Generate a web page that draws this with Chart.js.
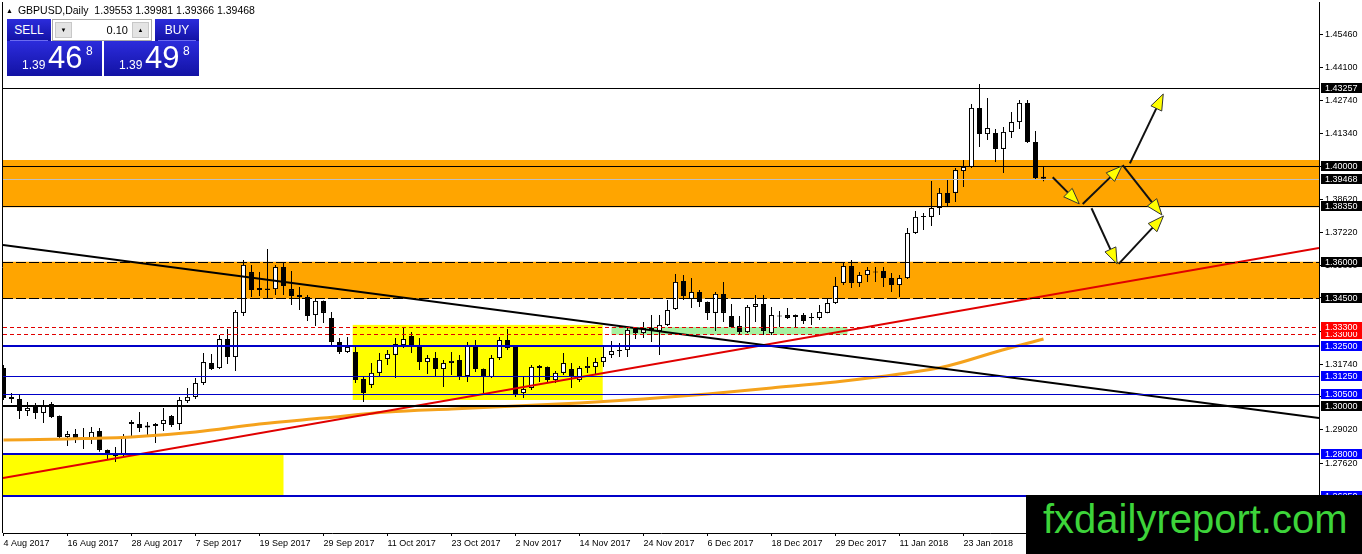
<!DOCTYPE html>
<html>
<head>
<meta charset="utf-8">
<title>GBPUSD Daily</title>
<script src="https://cdn.jsdelivr.net/npm/chart.js@4.4.1/dist/chart.umd.min.js"></script>
<style>
body { margin: 0; background: #fff; }
#wrap { position: relative; width: 1362px; height: 554px; overflow: hidden; font-family: 'Liberation Sans', Arial, sans-serif; }
#chart { position: absolute; left: 0; top: 0; }
.abs { position: absolute; white-space: nowrap; }
#hdr { left: 6px; top: 5px; font-size: 10.5px; line-height: 11px; color: #000; }
#hdr span { font-size: 7px; margin-right: 5px; vertical-align: 1px; }
.blue { background: linear-gradient(#2c2cdc, #1212a4); color: #fff; }
.btn { top: 19px; width: 44px; height: 22px; font-size: 12px; line-height: 22px; text-align: center; }
.sep { position: absolute; left: 3px; right: 3px; bottom: 0; height: 1px; background: #6b6bf0; }
.px { top: 41px; width: 95px; height: 35px; }
.px div { position: absolute; white-space: nowrap; }
.small { left: 15px; top: 18px; font-size: 12px; line-height: 12px; }
.big { left: 41px; top: 2px; font-size: 31px; line-height: 30px; }
.sup { left: 79px; top: 4px; font-size: 12px; line-height: 12px; }
#lot { left: 52px; top: 19px; width: 100px; height: 22px; background: #fff; box-sizing: border-box; border: 1px solid #a8a8a8; }
#lot .arr { position: absolute; top: 2px; width: 17px; height: 16px; background: #e4e4e4; border: 1px solid #c8c8c8; box-sizing: border-box; font-size: 6px; line-height: 14px; text-align: center; color: #000; }
#lot .val { position: absolute; right: 23px; top: 5px; font-size: 11px; line-height: 11px; }
#mark { left: 1026px; top: 495px; width: 336px; height: 59px; background: #000; }
#mark div { position: absolute; left: 17px; top: 4px; font-size: 40px; line-height: 40px; color: #3dd43a; }
</style>
</head>
<body>
<div id="wrap">
<canvas id="chart" width="1362" height="554"></canvas>
<div id="hdr" class="abs"><span>&#9650;</span>GBPUSD,Daily&nbsp; 1.39553 1.39981 1.39366 1.39468</div>
<div class="abs blue btn" style="left:7px">SELL<div class="sep"></div></div>
<div id="lot" class="abs"><div class="arr" style="left:2px">&#9660;</div><div class="val">0.10</div><div class="arr" style="right:2px">&#9650;</div></div>
<div class="abs blue btn" style="left:155px">BUY<div class="sep"></div></div>
<div class="abs blue px" style="left:7px"><div class="small">1.39</div><div class="big">46</div><div class="sup">8</div></div>
<div class="abs blue px" style="left:104px"><div class="small">1.39</div><div class="big">49</div><div class="sup">8</div></div>
<div id="mark" class="abs"><div>fxdailyreport.com</div></div>
</div>
<script>
'use strict'

let tickDates = ['4 Aug 2017', '16 Aug 2017', '28 Aug 2017', '7 Sep 2017', '19 Sep 2017', '29 Sep 2017', '11 Oct 2017', '23 Oct 2017', '2 Nov 2017', '14 Nov 2017', '24 Nov 2017', '6 Dec 2017', '18 Dec 2017', '29 Dec 2017', '11 Jan 2018', '23 Jan 2018'];
let priceTicks = [1.4546, 1.4410, 1.4274, 1.4134, 1.3998, 1.3862, 1.3722, 1.3586, 1.3450, 1.3312, 1.3174, 1.3038, 1.2902, 1.2762, 1.2626];

let opens = [1.3158, 1.3038, 1.3029, 1.2979, 1.2996, 1.2971, 1.3008, 1.2958, 1.2871, 1.2883,
  1.2869, 1.2867, 1.2896, 1.2817, 1.2796, 1.2796, 1.2925, 1.2925, 1.2919, 1.2917,
  1.2925, 1.2958, 1.2925, 1.3021, 1.3038, 1.3096, 1.3179, 1.3158, 1.3279, 1.3204,
  1.3388, 1.3558, 1.3492, 1.3483, 1.3487, 1.3579, 1.3487, 1.3463, 1.3454, 1.3379,
  1.3438, 1.3367, 1.3267, 1.3225, 1.3225, 1.3113, 1.3088, 1.3138, 1.3196, 1.3213,
  1.3254, 1.3292, 1.3246, 1.3183, 1.3200, 1.3154, 1.3179, 1.3192, 1.3125, 1.3250,
  1.3154, 1.3121, 1.3200, 1.3275, 1.3246, 1.3054, 1.3075, 1.3167, 1.3163, 1.3108,
  1.3138, 1.3154, 1.3108, 1.3158, 1.3163, 1.3183, 1.3213, 1.3229, 1.3233, 1.3321,
  1.3304, 1.3317, 1.3313, 1.3338, 1.3404, 1.3521, 1.3446, 1.3475, 1.3433, 1.3388,
  1.3467, 1.3375, 1.3333, 1.3308, 1.3413, 1.3425, 1.3304, 1.3377, 1.3379, 1.3371,
  1.3379, 1.3367, 1.3367, 1.3388, 1.3429, 1.3513, 1.3583, 1.3513, 1.3546, 1.3556,
  1.3563, 1.3533, 1.3504, 1.3533, 1.3721, 1.3788, 1.3788, 1.3825, 1.3888, 1.3888,
  1.3979, 1.3996, 1.4242, 1.4133, 1.4138, 1.4071, 1.4142, 1.4183, 1.4263, 1.4100,
  1.39553];
let highs = [1.3171, 1.3054, 1.3050, 1.3017, 1.3013, 1.3025, 1.3017, 1.2960, 1.2896, 1.2904,
  1.2908, 1.2912, 1.2908, 1.2819, 1.2829, 1.2883, 1.2942, 1.2975, 1.2933, 1.2929,
  1.2992, 1.2963, 1.3038, 1.3075, 1.3117, 1.3221, 1.3217, 1.3296, 1.3321, 1.3400,
  1.3608, 1.3588, 1.3558, 1.3654, 1.3588, 1.3596, 1.3563, 1.3496, 1.3463, 1.3450,
  1.3440, 1.3392, 1.3283, 1.3288, 1.3246, 1.3121, 1.3179, 1.3221, 1.3233, 1.3283,
  1.3329, 1.3308, 1.3283, 1.3213, 1.3225, 1.3192, 1.3225, 1.3213, 1.3267, 1.3275,
  1.3156, 1.3213, 1.3288, 1.3321, 1.3248, 1.3125, 1.3171, 1.3171, 1.3165, 1.3146,
  1.3221, 1.3179, 1.3167, 1.3204, 1.3200, 1.3254, 1.3271, 1.3263, 1.3325, 1.3329,
  1.3350, 1.3379, 1.3379, 1.3442, 1.3550, 1.3546, 1.3533, 1.3483, 1.3435, 1.3475,
  1.3517, 1.3425, 1.3375, 1.3421, 1.3463, 1.3463, 1.3413, 1.3396, 1.3408, 1.3381,
  1.3388, 1.3388, 1.3421, 1.3450, 1.3538, 1.3596, 1.3608, 1.3558, 1.3579, 1.3579,
  1.3579, 1.3554, 1.3546, 1.3742, 1.3813, 1.3804, 1.3938, 1.3908, 1.3942, 1.3992,
  1.4025, 1.4258, 1.4342, 1.4283, 1.4154, 1.4163, 1.4225, 1.4275, 1.4275, 1.4146,
  1.39981];
let lows = [1.3025, 1.3013, 1.2946, 1.2958, 1.2946, 1.2929, 1.2950, 1.2858, 1.2833, 1.2846,
  1.2821, 1.2842, 1.2809, 1.2775, 1.2767, 1.2788, 1.2871, 1.2892, 1.2871, 1.2846,
  1.2896, 1.2912, 1.2900, 1.3013, 1.3029, 1.3088, 1.3150, 1.3154, 1.3175, 1.3146,
  1.3375, 1.3454, 1.3458, 1.3446, 1.3463, 1.3463, 1.3421, 1.3400, 1.3354, 1.3333,
  1.3346, 1.3246, 1.3217, 1.3221, 1.3096, 1.3017, 1.3075, 1.3121, 1.3171, 1.3117,
  1.3242, 1.3221, 1.3150, 1.3133, 1.3125, 1.3079, 1.3129, 1.3108, 1.3100, 1.3142,
  1.3054, 1.3117, 1.3192, 1.3233, 1.3038, 1.3033, 1.3067, 1.3100, 1.3100, 1.3096,
  1.3129, 1.3075, 1.3100, 1.3138, 1.3129, 1.3163, 1.3200, 1.3204, 1.3204, 1.3279,
  1.3283, 1.3267, 1.3213, 1.3333, 1.3400, 1.3442, 1.3408, 1.3413, 1.3358, 1.3313,
  1.3350, 1.3325, 1.3296, 1.3304, 1.3350, 1.3296, 1.3296, 1.3329, 1.3363, 1.3329,
  1.3342, 1.3338, 1.3358, 1.3386, 1.3425, 1.3504, 1.3492, 1.3496, 1.3517, 1.3517,
  1.3496, 1.3475, 1.3454, 1.3529, 1.3717, 1.3733, 1.3750, 1.3796, 1.3833, 1.3850,
  1.3913, 1.3992, 1.4079, 1.4108, 1.4017, 1.3971, 1.4117, 1.4154, 1.4096, 1.3946,
  1.39366];
let closes = [1.3033, 1.3029, 1.2979, 1.2992, 1.2971, 1.3004, 1.2954, 1.2871, 1.2883, 1.2867,
  1.2867, 1.2892, 1.2817, 1.2796, 1.2792, 1.2871, 1.2933, 1.2908, 1.2910, 1.2925,
  1.2942, 1.2921, 1.3025, 1.3038, 1.3096, 1.3183, 1.3154, 1.3279, 1.3204, 1.3392,
  1.3588, 1.3483, 1.3483, 1.3490, 1.3579, 1.3500, 1.3458, 1.3454, 1.3375, 1.3438,
  1.3388, 1.3267, 1.3225, 1.3246, 1.3108, 1.3054, 1.3138, 1.3192, 1.3217, 1.3258,
  1.3279, 1.3246, 1.3183, 1.3200, 1.3154, 1.3179, 1.3188, 1.3125, 1.3250, 1.3154,
  1.3121, 1.3200, 1.3275, 1.3242, 1.3046, 1.3071, 1.3163, 1.3158, 1.3108, 1.3138,
  1.3179, 1.3121, 1.3158, 1.3167, 1.3183, 1.3204, 1.3229, 1.3233, 1.3317, 1.3304,
  1.3325, 1.3325, 1.3338, 1.3400, 1.3517, 1.3458, 1.3475, 1.3433, 1.3388, 1.3467,
  1.3388, 1.3329, 1.3308, 1.3413, 1.3425, 1.3313, 1.3379, 1.3373, 1.3367, 1.3379,
  1.3354, 1.3371, 1.3392, 1.3429, 1.3500, 1.3583, 1.3513, 1.3546, 1.3567, 1.3560,
  1.3533, 1.3504, 1.3533, 1.3721, 1.3788, 1.3792, 1.3825, 1.3888, 1.3846, 1.3983,
  1.3996, 1.4242, 1.4133, 1.4158, 1.4071, 1.4142, 1.4183, 1.4263, 1.4100, 1.3950,
  1.39468];

let maIdx = [0, 8, 16, 24, 32, 40, 48, 56, 64, 72, 80, 88, 96, 104, 112, 118, 124, 130];
let maVals = [1.2858, 1.2863, 1.2871, 1.2892, 1.2925, 1.2950, 1.2975, 1.2988, 1.3000, 1.3013, 1.3029, 1.3050, 1.3075, 1.3100, 1.3133, 1.3167, 1.3225, 1.3279];

let downTrend = [[-0.0625, 1.3671], [164.4375, 1.2950]];
let upTrend = [[-0.0625, 1.2700], [164.4375, 1.3658]];

let zones = [[1.4025, 1.3828], [1.3601, 1.3447]];
let yellowBoxes = [[43.65, 74.9, 1.3338, 1.3025], [-0.0625, 35.0, 1.2797, 1.2626]];
let greenBox = [76.0, 105.5, 1.3329, 1.3297];

let levelPrices = [1.43257, 1.40000, 1.39468, 1.38350, 1.36000, 1.34500, 1.33000, 1.33300, 1.32500, 1.31250, 1.30500, 1.30000, 1.28000, 1.26250];
let levelStyles = [
  ['#000', 1, []], ['#000', 1, []], ['#c0c0c0', 1, []], ['#000', 1, []],
  ['#000', 1, [10, 3]], ['#000', 1, [10, 3]], ['#e00000', 1, [4, 3]], ['#e00000', 1, [4, 3]],
  ['#0000c8', 2, []], ['#0000c8', 1, []], ['#0000c8', 1, []], ['#000', 2, []],
  ['#0000c8', 2, []], ['#0000c8', 2, []]
];
let labelBg = ['#000', '#000', '#000', '#000', '#000', '#000', '#ff0000', '#ff0000', '#0000ff', '#0000ff', '#0000ff', '#000', '#0000ff', '#0000ff'];

let arrows = [
  [131.15, 1.3953, 134.47, 1.3842],
  [134.9, 1.3842, 139.8, 1.4000],
  [140.8, 1.4011, 144.97, 1.4300],
  [139.9, 1.4004, 144.8, 1.3796],
  [136.0, 1.3824, 139.2, 1.3592],
  [139.4, 1.3592, 145.0, 1.3792]
];

let wickData = [];
let bodyData = [];
let bodyColors = [];
for (let i = 0; i < opens.length; i++) {
  wickData.push({ x: i, y: [lows[i], highs[i]] });
  bodyData.push({ x: i, y: [opens[i], closes[i]] });
  bodyColors.push(closes[i] >= opens[i] ? '#fff' : '#000');
}

function drawArrow(ctx, x0, y0, x1, y1) {
  let dx = x1 - x0, dy = y1 - y0;
  let len = Math.hypot(dx, dy);
  let ux = dx / len, uy = dy / len;
  let bx = x1 - ux * 16, by = y1 - uy * 16;
  ctx.setLineDash([]);
  ctx.strokeStyle = '#111';
  ctx.lineWidth = 2;
  ctx.beginPath();
  ctx.moveTo(x0, y0);
  ctx.lineTo(bx, by);
  ctx.stroke();
  ctx.beginPath();
  ctx.moveTo(x1, y1);
  ctx.lineTo(bx - uy * 6, by + ux * 6);
  ctx.lineTo(bx + uy * 6, by - ux * 6);
  ctx.closePath();
  ctx.fillStyle = '#ffff00';
  ctx.fill();
  ctx.lineWidth = 1;
  ctx.strokeStyle = '#333';
  ctx.stroke();
}

let overlay = {
  id: 'overlay',
  beforeDatasetsDraw(chart) {
    let ctx = chart.ctx, a = chart.chartArea, sx = chart.scales.x, sy = chart.scales.y;
    ctx.save();
    ctx.beginPath();
    ctx.rect(a.left, a.top, a.right - a.left, a.bottom - a.top);
    ctx.clip();
    ctx.fillStyle = '#ffa500';
    zones.forEach(z => {
      let t = sy.getPixelForValue(z[0]), b = sy.getPixelForValue(z[1]);
      ctx.fillRect(a.left, t, a.right - a.left, b - t);
    });
    ctx.fillStyle = '#ffff00';
    yellowBoxes.forEach(r => {
      let l = sx.getPixelForValue(r[0]), rr = sx.getPixelForValue(r[1]);
      let t = sy.getPixelForValue(r[2]), b = sy.getPixelForValue(r[3]);
      ctx.fillRect(l, t, rr - l, b - t);
    });
    ctx.fillStyle = '#a6f0a0';
    let gl = sx.getPixelForValue(greenBox[0]), gr = sx.getPixelForValue(greenBox[1]);
    let gt = sy.getPixelForValue(greenBox[2]), gb = sy.getPixelForValue(greenBox[3]);
    ctx.fillRect(gl, gt, gr - gl, gb - gt);
    ctx.restore();
  },
  afterDatasetsDraw(chart) {
    let ctx = chart.ctx, a = chart.chartArea, sx = chart.scales.x, sy = chart.scales.y;
    ctx.save();
    ctx.beginPath();
    ctx.rect(a.left, a.top, a.right - a.left, a.bottom - a.top);
    ctx.clip();
    levelPrices.forEach((p, k) => {
      let st = levelStyles[k];
      let yy = Math.round(sy.getPixelForValue(p)) + (st[1] === 1 ? 0.5 : 0);
      ctx.strokeStyle = st[0];
      ctx.lineWidth = st[1];
      ctx.setLineDash(st[2]);
      ctx.beginPath();
      ctx.moveTo(a.left, yy);
      ctx.lineTo(a.right, yy);
      ctx.stroke();
    });
    arrows.forEach(r => {
      drawArrow(ctx, sx.getPixelForValue(r[0]), sy.getPixelForValue(r[1]), sx.getPixelForValue(r[2]), sy.getPixelForValue(r[3]));
    });
    ctx.restore();
  },
  afterDraw(chart) {
    let ctx = chart.ctx, a = chart.chartArea, sy = chart.scales.y;
    ctx.save();
    ctx.strokeStyle = '#000';
    ctx.lineWidth = 1;
    ctx.beginPath();
    ctx.moveTo(a.left - 0.5, a.top);
    ctx.lineTo(a.left - 0.5, a.bottom);
    ctx.stroke();
    ctx.font = "9px 'Liberation Sans', Arial, sans-serif";
    ctx.textBaseline = 'middle';
    levelPrices.forEach((p, k) => {
      let yy = Math.round(sy.getPixelForValue(p));
      ctx.fillStyle = labelBg[k];
      ctx.fillRect(a.right + 2, yy - 5, 1362 - a.right - 2, 10);
      ctx.fillStyle = '#fff';
      ctx.fillText(p.toFixed(5), a.right + 6, yy + 0.5);
    });
    ctx.restore();
  }
};

new Chart('chart', {
  type: 'bar',
  data: {
    datasets: [{
      type: 'line',
      data: downTrend.map(d => ({ x: d[0], y: d[1] })),
      borderColor: '#000',
      borderWidth: 2,
      pointRadius: 0,
      order: 0
    }, {
      type: 'line',
      data: upTrend.map(d => ({ x: d[0], y: d[1] })),
      borderColor: '#e00000',
      borderWidth: 2,
      pointRadius: 0,
      order: 0
    }, {
      type: 'line',
      data: maIdx.map((v, k) => ({ x: v, y: maVals[k] })),
      borderColor: '#f5a21c',
      borderWidth: 3,
      pointRadius: 0,
      cubicInterpolationMode: 'monotone',
      order: 1
    }, {
      data: bodyData,
      backgroundColor: bodyColors,
      borderColor: '#000',
      borderWidth: 1,
      borderSkipped: false,
      barThickness: 5,
      grouped: false,
      inflateAmount: 0,
      order: 2
    }, {
      data: wickData,
      backgroundColor: '#000',
      borderWidth: 0,
      borderSkipped: false,
      barThickness: 1,
      grouped: false,
      inflateAmount: 0,
      order: 3
    }]
  },
  options: {
    responsive: false,
    animation: false,
    devicePixelRatio: 1,
    layout: { padding: { left: 3, top: 2, right: 0, bottom: 0 } },
    plugins: { legend: { display: false }, tooltip: { enabled: false } },
    scales: {
      x: {
        type: 'linear',
        min: -0.0625,
        max: 164.4375,
        offset: false,
        grid: { drawOnChartArea: false, offset: false, tickLength: 3, color: '#000' },
        border: { display: true, color: '#000' },
        ticks: {
          autoSkip: false,
          maxRotation: 0,
          align: 'start',
          padding: 2,
          color: '#000',
          font: { family: "'Liberation Sans', Arial, sans-serif", size: 9 },
          callback: v => tickDates[Math.round(v / 8)]
        },
        afterBuildTicks: s => { s.ticks = tickDates.map((d, k) => ({ value: k * 8 })); },
        afterFit: s => { s.height = 21; s.paddingLeft = 0; s.paddingRight = 0; }
      },
      y: {
        type: 'linear',
        position: 'right',
        min: 1.247083,
        max: 1.468333,
        grid: { drawOnChartArea: false, tickLength: 4, color: '#000' },
        border: { display: true, color: '#000' },
        ticks: {
          autoSkip: false,
          padding: 2,
          color: '#000',
          font: { family: "'Liberation Sans', Arial, sans-serif", size: 9 },
          callback: v => v.toFixed(5)
        },
        afterBuildTicks: s => { s.ticks = priceTicks.map(v => ({ value: v })); },
        afterFit: s => { s.width = 43; s.paddingTop = 0; s.paddingBottom = 0; }
      }
    }
  },
  plugins: [overlay]
});
</script>
</body>
</html>
